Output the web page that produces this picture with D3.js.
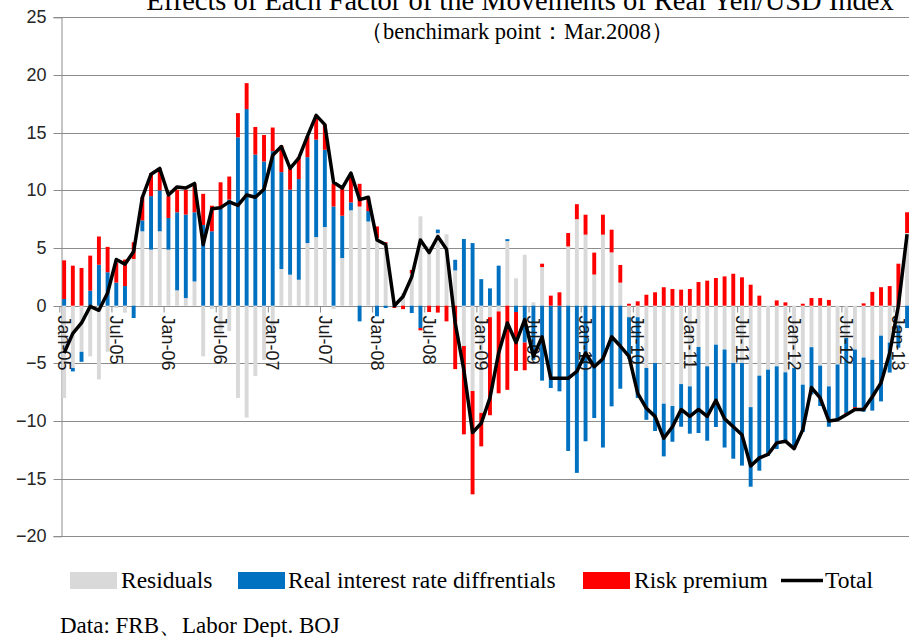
<!DOCTYPE html>
<html>
<head>
<meta charset="utf-8">
<script src="https://cdn.jsdelivr.net/npm/d3@7"></script>
<style>
  body { margin: 0; background: #fff; }
</style>
</head>
<body>
<script>
// Size of the picture
var w = 909;
var h = 637;

// Monthly categories, Jan-05 .. Feb-13
var months = d3.timeMonth.range(new Date(2005, 0, 1), new Date(2013, 2, 1));
var fmt = d3.timeFormat("%b-%y");
var categories = months.map(function(d) { return fmt(d); });

// Axis labels shown every six months
var tickLabels = ["Jan-05", "Jul-05", "Jan-06", "Jul-06", "Jan-07", "Jul-07", "Jan-08", "Jul-08",
                  "Jan-09", "Jul-09", "Jan-10", "Jul-10", "Jan-11", "Jul-11", "Jan-12", "Jul-12", "Jan-13"];
var yTicks = [-20, -15, -10, -5, 0, 5, 10, 15, 20, 25];

// Residuals (grey)
var residuals = [
  -8.0, -5.4, -4.0, -4.4, -6.4, -4.0, -0.2, -0.6, 4.05, 6.45, 4.86, 6.45,
  4.86, 1.33, 0.66, 2.1, -4.4, -0.3, -2.2, -2.2, -8.0, -9.7, -6.1, -4.7,
  -2.4, 3.18, 2.69, 2.25, 5.43, 5.95, 6.82, -0.3, 4.13, 8.27, 8.6, 7.3,
  5.87, 5.4, 0.2, 1.1, 2.8, 7.75, 5.15, 6.3, 6.2, 3.06, -3.5, -7.4,
  -9.3, -1.0, -0.5, 5.6, 2.37, 4.42, 0.3, 3.35, 0, 0, 5.14, 7.5,
  6.16, 2.7, 6.16, 4.62, 2.0, -1.0, -1.0, -5.4, -4.97, -8.5, -8.7, -6.8,
  -7.0, -3.58, -5.26, -3.38, -3.8, -4.97, -4.97, -8.8, -6.07, -5.55, -5.26, -5.78,
  -5.4, -6.85, -3.6, -5.2, -7.0, -5.1, -2.8, -3.8, -4.5, -4.7, -2.6, -3.2,
  -1.7, 6.3
];

// Real interest rate differentials (blue)
var realRate = [
  0.58, -0.3, -0.87, 1.3, 3.55, 2.9, 2.0, 1.7, -1.07, 0.95, 4.64, 3.55,
  2.74, 6.77, 7.24, 6.0, 7.0, 6.45, 8.4, 9.2, 14.6, 17.05, 13.1, 12.5,
  13.4, 8.4, 7.37, 8.73, 7.45, 8.45, 6.7, 8.6, 3.67, 0.69, -1.36, 0.9,
  -0.92, -0.2, -0.1, 0, -0.64, -1.94, 0, 0.3, 0, 0.92, 5.78, 5.43,
  2.3, 1.5, 3.47, 0.17, -0.55, -3.2, -4.7, -6.5, -7.14, -7.43, -12.6, -14.5,
  -11.76, -9.74, -12.3, -8.73, -7.2, -3.6, -7.0, -4.5, -5.9, -4.57, -3.1, -3.7,
  -4.1, -7.46, -6.45, -7.14, -8.5, -8.3, -8.9, -6.9, -8.24, -7.46, -7.17, -6.13,
  -7.0, -4.1, -4.1, -3.5, -3.5, -4.8, -6.5, -5.0, -4.7, -4.4, -5.7, -2.6,
  -1.94, -1.94
];

// Risk premium (red)
var riskPremium = [
  3.35, 3.47, 3.27, 3.04, 2.45, 2.2, 1.7, 2.3, 1.45, 2.0, 2.0, 1.9,
  1.9, 1.96, 2.16, 2.5, 2.7, 2.22, 2.3, 2.0, 2.1, 2.25, 2.4, 2.3,
  2.05, 2.3, 1.88, 1.9, 1.8, 2.1, 2.2, 2.0, 2.4, 2.5, 1.97, 1.2,
  1.0, 0.1, -0.1, -0.3, 0.3, -0.2, -0.55, -0.6, -1.36, -5.5, -7.66, -8.96,
  -2.9, -8.5, -7.1, -7.3, -5.1, -2.4, 0, 0.29, 0.87, 1.16, 1.16, 1.3,
  1.73, 1.9, 1.73, 1.97, 1.53, 0.17, 0.38, 0.95, 1.16, 1.6, 1.45, 1.39,
  1.45, 2.05, 2.17, 2.4, 2.54, 2.77, 2.46, 1.82, 0.87, 0, 0.46, 0.29,
  0, 0.17, 0.66, 0.66, 0.5, 0, -0.15, -0.2, 0.2, 1.2, 1.6, 1.7,
  3.64, 1.8
];

// Total (black line)
var total = [
  -4.1, -2.4, -1.5, -0.06, -0.4, 1.1, 4.0, 3.6, 4.7, 9.4, 11.4, 11.9,
  9.6, 10.3, 10.2, 10.6, 5.3, 8.4, 8.5, 9.0, 8.7, 9.6, 9.4, 10.1,
  13.05, 13.8, 11.9, 12.8, 14.7, 16.5, 15.7, 10.7, 10.2, 11.5, 9.2, 9.4,
  5.7, 5.3, 0.0, 0.8, 2.5, 5.7, 4.6, 6.0, 4.9, -1.5, -5.6, -11.0,
  -10.2, -8.0, -4.1, -1.5, -3.2, -1.2, -4.4, -2.7, -6.3, -6.3, -6.3, -5.7,
  -4.1, -5.3, -4.6, -2.7, -3.5, -4.4, -7.6, -8.9, -9.6, -11.5, -10.5, -9.0,
  -9.6, -9.0, -9.6, -8.2, -9.8, -10.5, -11.2, -13.9, -13.2, -12.9, -11.9, -11.75,
  -12.4, -10.75, -7.1, -8.0, -10.0, -9.9, -9.45, -9.0, -9.0, -7.9, -6.7, -4.1,
  0.0, 6.2
];

var seriesNames = ["Residuals", "Real interest rate diffrentials", "Risk premium", "Total"];
var colors = ["#d9d9d9", "#0070c0", "#ff0000", "#000000"];

var serif = "'Liberation Serif', 'Times New Roman', serif";
var sans = "'Liberation Sans', Arial, sans-serif";

// Table the stack layout needs
var table = categories.map(function(c, i) {
  return { month: c, res: residuals[i], rate: realRate[i], risk: riskPremium[i] };
});

var step = 8.69;
var x0 = 59.8;
var xScale = d3.scaleBand()
               .domain(categories)
               .range([x0, x0 + step * categories.length])
               .paddingInner(0.55)
               .paddingOuter(0.275);

var yScale = d3.scaleLinear()
               .domain([-20, 25])
               .range([536.3, 17.4]);

var svg = d3.select("body")
            .append("svg")
            .attr("width", w)
            .attr("height", h)
            .style("display", "block");

// Horizontal gridlines
svg.append("g")
   .selectAll("line")
   .data(yTicks)
   .enter()
   .append("line")
   .attr("x1", 61)
   .attr("x2", w)
   .attr("y1", function(d) { return Math.round(yScale(d)) + 0.5; })
   .attr("y2", function(d) { return Math.round(yScale(d)) + 0.5; })
   .attr("stroke", "#8c8c8c")
   .attr("stroke-width", 1);

// Y axis
var yAxis = d3.axisLeft(yScale)
              .tickValues(yTicks)
              .tickSize(8)
              .tickPadding(7);

var gy = svg.append("g")
   .attr("transform", "translate(61.5,0)")
   .call(yAxis);
gy.select(".domain").attr("stroke", "#8c8c8c");
gy.selectAll(".tick line").attr("stroke", "#8c8c8c");
gy.selectAll(".tick")
  .attr("transform", function(d) { return "translate(0," + (Math.round(yScale(d)) + 0.5) + ")"; });
gy.selectAll(".tick text")
  .attr("font-family", sans)
  .attr("font-size", "18px")
  .attr("fill", "#262626");

// Stacked bars (positives up, negatives down)
var stack = d3.stack()
              .keys(["res", "rate", "risk"])
              .offset(d3.stackOffsetDiverging);
var layers = stack(table);

svg.append("g")
   .selectAll("g")
   .data(layers)
   .enter()
   .append("g")
   .attr("fill", function(d, i) { return colors[i]; })
   .selectAll("rect")
   .data(function(d) { return d; })
   .enter()
   .append("rect")
   .attr("x", function(d) { return xScale(d.data.month); })
   .attr("width", xScale.bandwidth())
   .attr("y", function(d) { return yScale(Math.max(d[0], d[1])); })
   .attr("height", function(d) { return Math.abs(yScale(d[0]) - yScale(d[1])); });

// X axis labels along the zero line
var xAxis = d3.axisBottom(xScale)
              .tickValues(tickLabels)
              .tickSize(6);

var gx = svg.append("g")
   .attr("transform", "translate(0," + (Math.round(yScale(0)) + 0.5) + ")")
   .call(xAxis);
gx.select(".domain").remove();
gx.selectAll(".tick line")
  .attr("x1", -step / 2)
  .attr("x2", -step / 2)
  .attr("stroke", "#8c8c8c");
gx.selectAll(".tick text")
  .attr("transform", "rotate(90)")
  .attr("x", 9)
  .attr("y", 0)
  .attr("dy", "0.35em")
  .attr("text-anchor", "start")
  .attr("font-family", sans)
  .attr("font-size", "18px")
  .attr("fill", "#1a1a1a");

// Total line
var line = d3.line()
             .x(function(d, i) { return xScale(categories[i]) + xScale.bandwidth() / 2; })
             .y(function(d) { return yScale(d); });

svg.append("path")
   .datum(total)
   .attr("d", line)
   .attr("fill", "none")
   .attr("stroke", "#000")
   .attr("stroke-width", 3.5)
   .attr("stroke-linejoin", "round");

// Titles (the main title is cut at the top edge, as in the source)
svg.append("text")
   .attr("x", 520)
   .attr("y", 10)
   .attr("text-anchor", "middle")
   .attr("font-family", serif)
   .attr("font-size", "28.5px")
   .text("Effects of Each Factor of the Movements of Real Yen/USD Index");

svg.append("text")
   .attr("x", 517)
   .attr("y", 39)
   .attr("text-anchor", "middle")
   .attr("font-family", serif)
   .attr("font-size", "22.5px")
   .text("（benchimark point：Mar.2008）");

// Legend
var legendItems = [
  { name: seriesNames[0], color: colors[0], sx: 70, tx: 121 },
  { name: seriesNames[1], color: colors[1], sx: 238, tx: 288 },
  { name: seriesNames[2], color: colors[2], sx: 583, tx: 634 }
];
var legend = svg.append("g");
legend.selectAll("rect")
      .data(legendItems)
      .enter()
      .append("rect")
      .attr("x", function(d) { return d.sx; })
      .attr("y", 572)
      .attr("width", 47)
      .attr("height", 17)
      .attr("fill", function(d) { return d.color; });
legend.selectAll("text")
      .data(legendItems)
      .enter()
      .append("text")
      .attr("x", function(d) { return d.tx; })
      .attr("y", 588)
      .attr("font-family", serif)
      .attr("font-size", "23.5px")
      .text(function(d) { return d.name; });
legend.append("line")
      .attr("x1", 781)
      .attr("x2", 823)
      .attr("y1", 580.5)
      .attr("y2", 580.5)
      .attr("stroke", "#000")
      .attr("stroke-width", 3.5);
legend.append("text")
      .attr("x", 825)
      .attr("y", 588)
      .attr("font-family", serif)
      .attr("font-size", "23.5px")
      .text(seriesNames[3]);

// Source note
svg.append("text")
   .attr("x", 60)
   .attr("y", 633)
   .attr("font-family", serif)
   .attr("font-size", "23px")
   .text("Data: FRB、Labor Dept. BOJ");
</script>
</body>
</html>
